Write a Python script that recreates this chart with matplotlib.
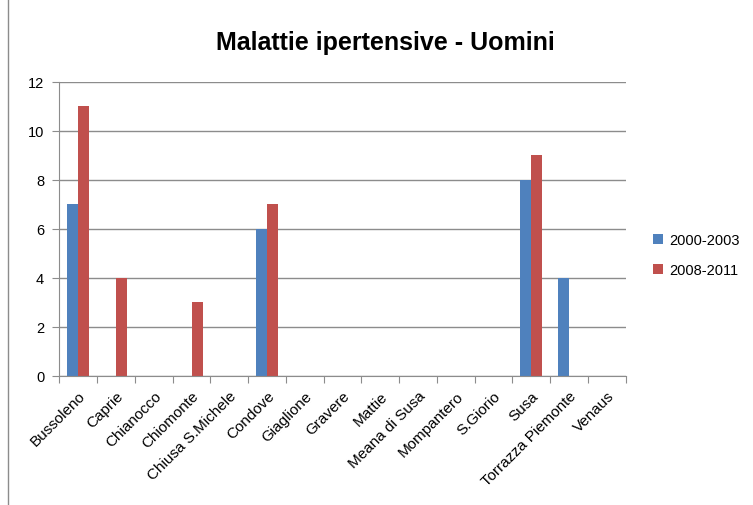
import numpy as np
import matplotlib.pyplot as plt
from matplotlib.lines import Line2D

# data
comuni = ['Bussoleno', 'Caprie', 'Chianocco', 'Chiomonte', 'Chiusa S.Michele',
          'Condove', 'Giaglione', 'Gravere', 'Mattie', 'Meana di Susa',
          'Mompantero', 'S.Giorio', 'Susa', 'Torrazza Piemonte', 'Venaus']
v_2000_2003 = [7, 0, 0, 0, 0, 6, 0, 0, 0, 0, 0, 0, 8, 4, 0]
v_2008_2011 = [11, 4, 0, 3, 0, 7, 0, 0, 0, 0, 0, 0, 9, 0, 0]

plt.rcParams['font.family'] = ['Liberation Sans', 'DejaVu Sans']

fig = plt.figure(figsize=(7.53, 5.06), dpi=100)
ax = fig.add_axes([0.079, 0.255, 0.752, 0.581])

x = np.arange(len(comuni))
w = 0.29
ax.bar(x - w/2, v_2000_2003, w, color='#4f81bd', label='2000-2003')
ax.bar(x + w/2, v_2008_2011, w, color='#c0504d', label='2008-2011')

ax.set_xlim(-0.5, len(comuni) - 0.5)
ax.set_ylim(0, 12)
ax.set_yticks(range(0, 13, 2))
ax.yaxis.grid(True, color='#8c8c8c', linewidth=1)
ax.set_axisbelow(True)

# ticks at the category boundaries, labels at centres
ax.set_xticks(np.arange(-0.5, len(comuni), 1))
ax.set_xticklabels([])
ax.set_xticks(x, minor=True)
ax.set_xticklabels(comuni, minor=True, rotation=45, ha='right',
                   rotation_mode='anchor', fontsize=11)
ax.tick_params(axis='x', which='minor', length=0, pad=9)
ax.tick_params(axis='x', which='major', length=5, color='#8c8c8c')
ax.tick_params(axis='y', length=5, color='#8c8c8c', labelsize=10.5, pad=6)

for s in ['top', 'right']:
    ax.spines[s].set_visible(False)
for s in ['left', 'bottom']:
    ax.spines[s].set_color('#8c8c8c')

fig.text(0.512, 0.915, 'Malattie ipertensive - Uomini', ha='center',
         va='center', fontsize=18, fontweight='bold')

ax.legend(loc='center left', bbox_to_anchor=(1.025, 0.41), frameon=False,
          fontsize=10.5, handlelength=0.7, handleheight=0.7, labelspacing=1.1,
          handletextpad=0.4)

fig.add_artist(Line2D([0.011, 0.011], [0, 1], color='#8c8c8c', linewidth=1))

fig.savefig('out.png', dpi=100)
